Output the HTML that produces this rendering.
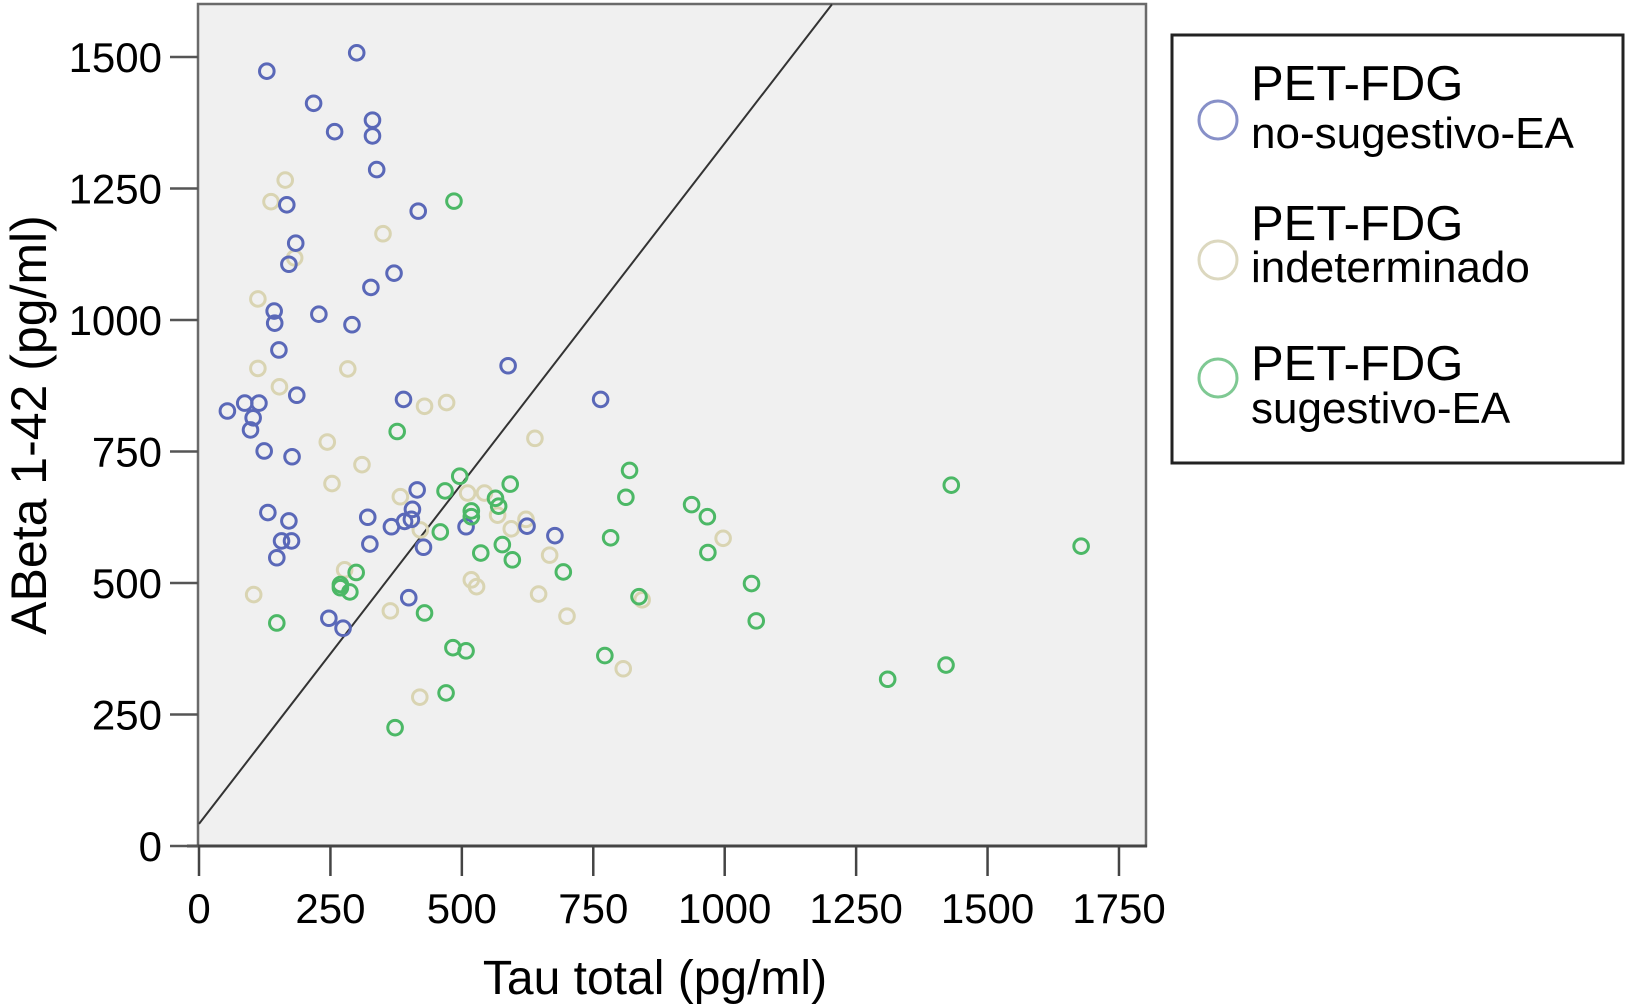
<!DOCTYPE html>
<html><head><meta charset="utf-8"><style>
html,body{margin:0;padding:0;background:#fff;}
svg{display:block;font-family:"Liberation Sans",Arial,sans-serif;}
</style></head><body>
<svg id="chart" width="1625" height="1006" viewBox="0 0 1625 1006" xmlns="http://www.w3.org/2000/svg">
<rect x="198" y="4" width="948" height="842" fill="#f0f0f0" stroke="#6a6a6a" stroke-width="2.5"/>
<g id="marks"></g>
<line x1="187" y1="846" x2="1147" y2="846" stroke="#444" stroke-width="3"/>
<g id="ticks"></g>
<text x="655" y="994" font-size="48" text-anchor="middle">Tau total (pg/ml)</text>
<text transform="translate(46,425) rotate(-90)" font-size="50" text-anchor="middle">ABeta 1-42 (pg/ml)</text>
<g>
<rect x="1172" y="35" width="451" height="428" fill="#fff" stroke="#222" stroke-width="3"/>
<g>
<circle cx="1218" cy="120" r="19" fill="none" stroke="#8790c8" stroke-width="3"/>
<text x="1251" y="100" font-size="49">PET-FDG</text>
<text x="1251" y="148" font-size="44">no-sugestivo-EA</text></g>
<g>
<circle cx="1218" cy="260" r="19" fill="none" stroke="#dcd8bf" stroke-width="3"/>
<text x="1251" y="240" font-size="49">PET-FDG</text>
<text x="1251" y="282" font-size="44">indeterminado</text></g>
<g>
<circle cx="1218" cy="378" r="19" fill="none" stroke="#7fc993" stroke-width="3"/>
<text x="1251" y="380" font-size="49">PET-FDG</text>
<text x="1251" y="423" font-size="44">sugestivo-EA</text></g>
</g>
</svg>
<script>
const xTicks = [0,250,500,750,1000,1250,1500,1750];
const yTicks = [0,250,500,750,1000,1250,1500];
const blueX = [129,300,218,330,330,258,338,167,417,184,171,371,327,143,144,228,291,152,588,186,389,54,87,114,103,98,124,177,131,171,157,176,148,321,325,366,391,404,406,415,427,508,624,677,399,247,274,764];
const blueY = [1473,1508,1412,1380,1350,1358,1286,1219,1207,1146,1106,1089,1062,1017,994,1011,991,943,913,857,849,827,842,842,814,791,751,740,634,618,580,580,548,625,574,607,617,621,640,677,568,607,608,590,472,433,414,849];
const tanX = [164,137,350,182,112,112,283,153,429,471,639,244,310,253,383,511,543,568,622,594,667,421,277,518,528,646,700,104,364,420,807,843,997];
const tanY = [1266,1225,1164,1118,1040,908,907,873,836,843,775,768,725,689,664,671,671,629,621,603,553,601,525,506,493,479,437,478,447,283,337,468,585];
const greenX = [485,377,496,468,592,564,570,518,518,459,577,536,596,693,299,269,269,287,148,429,483,508,470,373,819,812,783,937,967,968,1051,1060,837,772,1310,1421,1431,1678];
const greenY = [1226,788,703,675,688,661,646,637,626,597,573,557,544,521,520,491,497,483,424,443,377,371,291,225,714,663,586,649,626,558,499,428,474,362,317,344,686,570];
const lineIntercept = 42;
const lineSlope = 1.294;
const xs = v => 199 + v * 0.5257;
const ys = v => 846 - v * 0.526;
const NS = "http://www.w3.org/2000/svg";
const marks = document.getElementById('marks');
const ticks = document.getElementById('ticks');
function mk(tag, attrs, parent){ const e=document.createElementNS(NS,tag); for(const k in attrs) e.setAttribute(k,attrs[k]); parent.appendChild(e); return e; }
xTicks.forEach(t=>{
  const l = mk('line',{x1:xs(t),x2:xs(t),y1:846,y2:876,stroke:'#444','stroke-width':2.5},ticks);
  
  
  const tx = mk('text',{x:xs(t),y:923,'font-size':42,'text-anchor':'middle'},ticks);
  tx.textContent = t;
  
  
});
yTicks.forEach(t=>{
  const l = mk('line',{x1:170,x2:198,y1:ys(t),y2:ys(t),stroke:'#555','stroke-width':2.5},ticks);
  
  
  const tx = mk('text',{x:162,y:ys(t)+15,'font-size':42,'text-anchor':'end'},ticks);
  tx.textContent = t;
  
  
});
const xEnd = (1600 - lineIntercept) / lineSlope;
const ln = mk('line',{x1:xs(0),y1:ys(lineIntercept),x2:xs(xEnd),y2:ys(lineIntercept+lineSlope*xEnd),stroke:'#333','stroke-width':2},marks);


function series(X,Y,color,name){
  X.forEach((x,i)=>{
    const c = mk('circle',{cx:xs(x),cy:ys(Y[i]),r:7.3,fill:'none',stroke:color,'stroke-width':3},marks);
    
    
  });
}
series(tanX,tanY,'#d9d4b2','point-indeterminado');
series(blueX,blueY,'#5a68b8','point-no-sugestivo');
series(greenX,greenY,'#4cb866','point-sugestivo');
</script>
</body></html>
